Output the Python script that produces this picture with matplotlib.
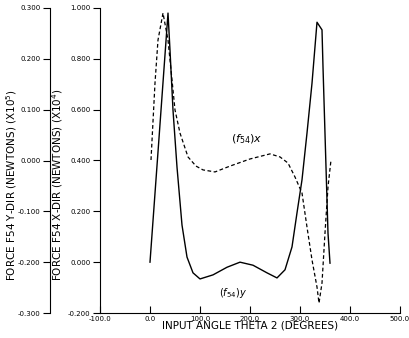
import numpy as np
import matplotlib.pyplot as plt

# input angle theta 2 (degrees) and force components
theta_y = [0, 18, 36, 40, 46, 54, 64, 74, 86, 100, 126, 154, 180, 206, 234,
           254, 270, 284, 294, 304, 314, 324, 334, 344, 346, 352, 356, 360]
f54_y = [-0.200, 0.044, 0.290, 0.217, 0.099, -0.013, -0.127, -0.190, -0.221,
         -0.233, -0.225, -0.210, -0.200, -0.206, -0.221, -0.231, -0.215,
         -0.170, -0.103, -0.038, 0.054, 0.152, 0.272, 0.257, 0.184, -0.013,
         -0.143, -0.202]

theta_x = [2, 10, 16, 26, 36, 44, 50, 60, 76, 92, 106, 130, 160, 200, 240,
           260, 276, 290, 304, 314, 324, 334, 338, 344, 350, 356, 362]
f54_x = [0.402, 0.705, 0.874, 0.980, 0.874, 0.717, 0.599, 0.508, 0.414,
         0.378, 0.363, 0.355, 0.378, 0.406, 0.426, 0.414, 0.390, 0.335,
         0.272, 0.138, 0.009, -0.098, -0.161, -0.082, 0.115, 0.296, 0.402]

x_ticks = [-100, 0, 100, 200, 300, 400, 500]
x_dir_ticks = [-0.2, 0.0, 0.2, 0.4, 0.6, 0.8, 1.0]
y_dir_ticks = [-0.3, -0.2, -0.1, 0.0, 0.1, 0.2, 0.3]

fig = plt.figure(figsize=(4.1, 3.38), dpi=100)
ax = fig.add_axes([100 / 410, 25 / 338, 300 / 410, 305 / 338])

ax.plot(theta_x, f54_x, color='black', lw=0.9, ls='--', dashes=(3, 2))
ax.set_xlim(-100, 500)
ax.set_ylim(-0.2, 1.0)
ax.set_xticks(x_ticks)
ax.set_xticklabels(['%.1f' % v for v in x_ticks])
ax.set_yticks(x_dir_ticks)
ax.set_yticklabels(['%.3f' % v for v in x_dir_ticks])
ax.spines['top'].set_visible(False)
ax.spines['right'].set_visible(False)
ax.tick_params(axis='x', direction='in', length=5, labelsize=5, pad=2)
ax.tick_params(axis='y', direction='out', length=5, labelsize=5, pad=2)
ax.set_ylabel('FORCE F54 X-DIR (NEWTONS) (X10$^4$)', fontsize=7.5)
ax.yaxis.set_label_coords(-35 / 300, 0.42)
ax.set_xlabel('INPUT ANGLE THETA 2 (DEGREES)', fontsize=7.5)
ax.xaxis.set_label_coords(0.5, -8 / 305)

ax2 = ax.twinx()
ax2.plot(theta_y, f54_y, color='black', lw=1.0)
ax2.set_ylim(-0.3, 0.3)
ax2.set_yticks(y_dir_ticks)
ax2.set_yticklabels(['%.3f' % v for v in y_dir_ticks])
for s in ['top', 'right', 'bottom']:
    ax2.spines[s].set_visible(False)
ax2.spines['left'].set_visible(True)
ax2.spines['left'].set_position(('axes', -50 / 300))
ax2.yaxis.set_ticks_position('left')
ax2.yaxis.set_label_position('left')
ax2.tick_params(axis='y', direction='out', length=5, labelsize=5, pad=2)
ax2.set_ylabel('FORCE F54 Y-DIR (NEWTONS) (X10$^5$)', fontsize=7.5)
ax2.yaxis.set_label_coords(-81 / 300, 0.42)

ax.text(194, 0.485, r'$(f_{54})x$', fontsize=8, ha='center', va='center')
ax.text(166, -0.121, r'$(f_{54})y$', fontsize=7, ha='center', va='center')

fig.savefig('out.png', dpi=100)
